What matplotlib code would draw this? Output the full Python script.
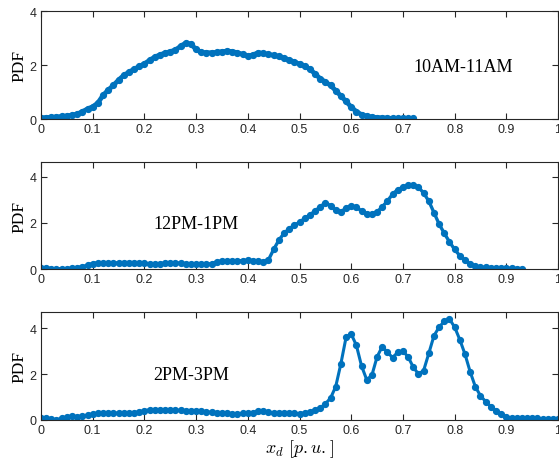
import numpy as np
import matplotlib
matplotlib.use('Agg')
from matplotlib import pyplot as plt

plt.rcParams['font.family'] = ['Liberation Sans', 'DejaVu Sans']
plt.rcParams['mathtext.fontset'] = 'cm'

# 10AM-11AM, x = 0 .. 0.72 step 0.01
x1 = np.round(np.arange(0, 0.725, 0.01), 2)
pdf1 = [0.05, 0.06, 0.07, 0.08, 0.10, 0.12, 0.15, 0.19, 0.28, 0.38,
        0.46, 0.60, 0.88, 1.08, 1.25, 1.45, 1.62, 1.74, 1.85, 1.95,
        2.05, 2.18, 2.30, 2.38, 2.45, 2.50, 2.56, 2.70, 2.82, 2.78,
        2.58, 2.47, 2.46, 2.46, 2.47, 2.50, 2.52, 2.50, 2.46, 2.40,
        2.34, 2.38, 2.46, 2.43, 2.40, 2.36, 2.32, 2.26, 2.19, 2.12,
        2.04, 1.96, 1.85, 1.68, 1.50, 1.38, 1.25, 1.06, 0.86, 0.66,
        0.45, 0.28, 0.17, 0.11, 0.08, 0.06, 0.05, 0.04, 0.03, 0.03,
        0.03, 0.03, 0.03]

# 12PM-1PM, x = 0 .. 0.93 step 0.01
x2 = np.round(np.arange(0, 0.935, 0.01), 2)
pdf2 = [0.05, 0.04, 0.02, 0.01, 0.01, 0.02, 0.03, 0.06, 0.10, 0.17,
        0.24, 0.27, 0.27, 0.26, 0.26, 0.27, 0.28, 0.28, 0.28, 0.27,
        0.25, 0.23, 0.22, 0.23, 0.26, 0.28, 0.27, 0.25, 0.23, 0.22,
        0.21, 0.20, 0.20, 0.24, 0.31, 0.35, 0.35, 0.34, 0.35, 0.37,
        0.38, 0.37, 0.35, 0.32, 0.40, 0.85, 1.25, 1.55, 1.75, 1.90,
        2.03, 2.20, 2.35, 2.52, 2.70, 2.88, 2.75, 2.55, 2.48, 2.65,
        2.75, 2.68, 2.52, 2.40, 2.40, 2.48, 2.70, 2.95, 3.25, 3.45,
        3.55, 3.63, 3.65, 3.55, 3.30, 2.95, 2.45, 1.95, 1.55, 1.18,
        0.85, 0.58, 0.38, 0.22, 0.12, 0.09, 0.07, 0.06, 0.05, 0.04,
        0.03, 0.03, 0.02, 0.02]

# 2PM-3PM, x = 0 .. 1 step 0.01
x3 = np.round(np.arange(0, 1.005, 0.01), 2)
pdf3 = [0.10, 0.06, 0.02, 0.01, 0.06, 0.12, 0.15, 0.14, 0.16, 0.21,
        0.25, 0.28, 0.30, 0.30, 0.30, 0.29, 0.28, 0.29, 0.31, 0.35,
        0.40, 0.44, 0.43, 0.41, 0.41, 0.42, 0.42, 0.41, 0.38, 0.38,
        0.40, 0.37, 0.34, 0.33, 0.32, 0.30, 0.28, 0.27, 0.27, 0.28,
        0.29, 0.32, 0.37, 0.38, 0.33, 0.29, 0.28, 0.28, 0.28, 0.28,
        0.27, 0.30, 0.35, 0.42, 0.52, 0.70, 0.95, 1.45, 2.45, 3.60,
        3.75, 3.25, 2.35, 1.75, 1.95, 2.75, 3.20, 2.95, 2.72, 2.95,
        3.00, 2.75, 2.30, 2.00, 2.15, 2.90, 3.67, 4.05, 4.30, 4.40,
        4.05, 3.50, 2.87, 2.10, 1.45, 1.05, 0.80, 0.58, 0.40, 0.24,
        0.12, 0.09, 0.08, 0.07, 0.07, 0.06, 0.06, 0.05, 0.05, 0.05,
        0.05]

# (x, y, label, label x, y top, line width)
series = [(x1, pdf1, '10AM-11AM', 0.72, 4.0, 3.4),
          (x2, pdf2, '12PM-1PM', 0.218, 4.65, 2.4),
          (x3, pdf3, '2PM-3PM', 0.218, 4.7, 2.2)]

xticks = np.round(np.arange(0, 1.01, 0.1), 1)
xticklabels = ['0'] + ['%.1f' % v for v in xticks[1:-1]] + ['1']
yticks = [0, 2, 4]

fig = plt.figure(figsize=(5.59, 4.64), dpi=100)

# axes boxes in figure fractions: left, bottom, width, height
boxes = [[0.0733, 0.741, 0.925, 0.233],
         [0.0733, 0.418, 0.925, 0.231],
         [0.0733, 0.093, 0.925, 0.232]]

col = '#0072BD'
dark = '#262626'

for (x, y, name, tx, ytop, lw), b in zip(series, boxes):
    ax = fig.add_axes(b)
    ax.plot(x, y, '-o', color=col, lw=lw, ms=4.2, mec=col, mfc=col)
    ax.set_xlim(0, 1)
    ax.set_ylim(0, ytop)
    ax.set_xticks(xticks)
    ax.set_xticklabels(xticklabels)
    ax.set_yticks(yticks)
    ax.tick_params(direction='in', top=True, right=True, length=4,
                   labelsize=9, colors=dark, pad=3)
    for s in ax.spines.values():
        s.set_color(dark)
        s.set_linewidth(0.8)
    ax.set_ylabel('PDF', family='Liberation Serif', fontsize=12.5,
                  color='black', labelpad=2)
    ax.text(tx, 1.96, name, family='Liberation Serif', fontsize=13,
            va='center', ha='left')

ax.set_xlabel(r'$x_d\ [p.u.]$', fontsize=13, labelpad=1)

fig.savefig('out.png', dpi=100)
